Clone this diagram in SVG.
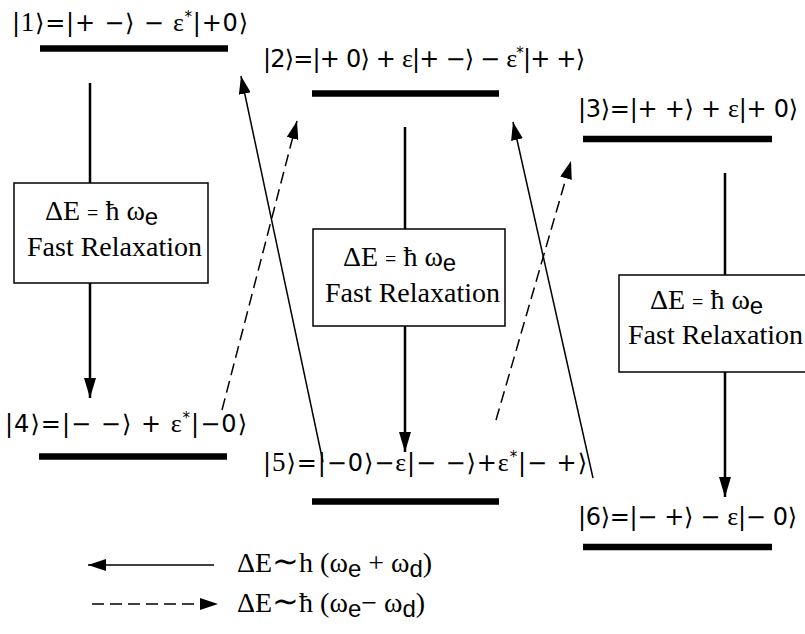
<svg xmlns="http://www.w3.org/2000/svg" width="805" height="634" viewBox="0 0 805 634">
<style>
.bg{fill:#fff}
.bar{stroke:#000;stroke-width:6.5;fill:none}
.box{fill:#fff;stroke:#000;stroke-width:1.5}
.relax{stroke:#000;stroke-width:2.5;fill:none}
.cross{stroke:#000;stroke-width:1.5;fill:none}
.dash{stroke-dasharray:12 6}
.ket{font-family:"DejaVu Sans","Noto Sans",sans-serif;font-size:24px;fill:#000}
.ser{font-family:"Liberation Serif","Times New Roman",serif}
.btxt{font-family:"Liberation Serif","Times New Roman",serif;font-size:28px;fill:#000}
.sub{font-family:"Liberation Sans",Arial,sans-serif;font-size:24px}
.eq{font-size:20px}
.tl{font-size:32px}
</style>
<defs>
<marker id="ah" viewBox="0 0 20 12" refX="20" refY="6" markerWidth="20" markerHeight="12" markerUnits="userSpaceOnUse" orient="auto">
<path d="M0,0 L20,6 L0,12 Z" fill="#000"/>
</marker>
<marker id="ahs" viewBox="0 0 18 12" refX="18" refY="6" markerWidth="18" markerHeight="12" markerUnits="userSpaceOnUse" orient="auto">
<path d="M0,0 L18,6 L0,12 Z" fill="#000"/>
</marker>
</defs>
<rect class="bg" x="0" y="0" width="805" height="634"/>

<g id="connectors">
<line class="relax" x1="90" y1="83" x2="90" y2="398" marker-end="url(#ah)"/>
<line class="relax" x1="405" y1="127" x2="405" y2="452" marker-end="url(#ah)"/>
<line class="relax" x1="725" y1="173" x2="725" y2="497" marker-end="url(#ah)"/>
<line class="cross" x1="323" y1="462" x2="241" y2="76" marker-end="url(#ahs)"/>
<line class="cross dash" x1="222" y1="410" x2="297" y2="121" marker-end="url(#ahs)"/>
<line class="cross" x1="593" y1="478" x2="513" y2="122" marker-end="url(#ahs)"/>
<line class="cross dash" x1="496" y1="420" x2="571" y2="161" marker-end="url(#ahs)"/>
</g>

<g id="level1">
<line class="bar" x1="40" y1="48.5" x2="228" y2="48.5"/>
<text class="ket" x="12" y="31" textLength="236" lengthAdjust="spacing">|<tspan class="ser" font-size="27">1</tspan>⟩=|+ −⟩ − <tspan class="ser" font-size="26">ε</tspan><tspan font-size="15" dy="-9">*</tspan><tspan dy="9">|+0⟩</tspan></text>
</g>
<g id="level2">
<line class="bar" x1="312" y1="93.5" x2="499" y2="93.5"/>
<text class="ket" x="263" y="67" textLength="322" lengthAdjust="spacing">|2⟩=|+ 0⟩ + <tspan class="ser" font-size="26">ε</tspan>|+ −⟩ − <tspan class="ser" font-size="26">ε</tspan><tspan font-size="15" dy="-9">*</tspan><tspan dy="9">|+ +⟩</tspan></text>
</g>
<g id="level3">
<line class="bar" x1="583" y1="139" x2="772" y2="139"/>
<text class="ket" x="578" y="117" textLength="220" lengthAdjust="spacing">|3⟩=|+ +⟩ + <tspan class="ser" font-size="26">ε</tspan>|+ 0⟩</text>
</g>
<g id="level4">
<line class="bar" x1="39" y1="456.5" x2="227" y2="456.5"/>
<text class="ket" x="5" y="432" textLength="242" lengthAdjust="spacing">|4⟩=|− −⟩ + <tspan class="ser" font-size="26">ε</tspan><tspan font-size="15" dy="-9">*</tspan><tspan dy="9">|−0⟩</tspan></text>
</g>
<g id="level5">
<line class="bar" x1="312" y1="501.5" x2="499" y2="501.5"/>
<text class="ket" x="263" y="471" textLength="324" lengthAdjust="spacing">|<tspan class="ser" font-size="27">5</tspan>⟩=|−0⟩−<tspan class="ser" font-size="26">ε</tspan>|− −⟩+<tspan class="ser" font-size="26">ε</tspan><tspan font-size="15" dy="-9">*</tspan><tspan dy="9">|− +⟩</tspan></text>
</g>
<g id="level6">
<line class="bar" x1="583" y1="547" x2="772" y2="547"/>
<text class="ket" x="578" y="525" textLength="219" lengthAdjust="spacing">|6⟩=|− +⟩ − <tspan class="ser" font-size="26">ε</tspan>|− 0⟩</text>
</g>

<g id="box1">
<rect class="box" x="14" y="183" width="194" height="100"/>
<text class="btxt" x="45" y="220">ΔE <tspan class="eq">=</tspan> ħ ω<tspan class="sub" dy="5">e</tspan></text>
<text class="btxt" x="27" y="256" textLength="175" lengthAdjust="spacingAndGlyphs">Fast Relaxation</text>
</g>
<g id="box2">
<rect class="box" x="313" y="229" width="192" height="97"/>
<text class="btxt" x="343" y="266">ΔE <tspan class="eq">=</tspan> ħ ω<tspan class="sub" dy="5">e</tspan></text>
<text class="btxt" x="325" y="302" textLength="175" lengthAdjust="spacingAndGlyphs">Fast Relaxation</text>
</g>
<g id="box3">
<rect class="box" x="619" y="275" width="200" height="97"/>
<text class="btxt" x="650" y="309">ΔE <tspan class="eq">=</tspan> ħ ω<tspan class="sub" dy="5">e</tspan></text>
<text class="btxt" x="628" y="344" textLength="175" lengthAdjust="spacingAndGlyphs">Fast Relaxation</text>
</g>

<g id="legend">
<line class="cross" x1="214" y1="565" x2="88" y2="565" marker-end="url(#ahs)"/>
<line class="cross dash" x1="92" y1="604" x2="218" y2="604" marker-end="url(#ahs)"/>
<text class="btxt" x="237" y="572">ΔE<tspan class="tl">∼</tspan>h (ω<tspan class="sub" dy="5">e</tspan><tspan dy="-5"> + ω</tspan><tspan class="sub" dy="5">d</tspan><tspan dy="-5">)</tspan></text>
<text class="btxt" x="237" y="612">ΔE<tspan class="tl">∼</tspan>ħ (ω<tspan class="sub" dy="5">e</tspan><tspan dy="-5">− ω</tspan><tspan class="sub" dy="5">d</tspan><tspan dy="-5">)</tspan></text>
</g>
</svg>
